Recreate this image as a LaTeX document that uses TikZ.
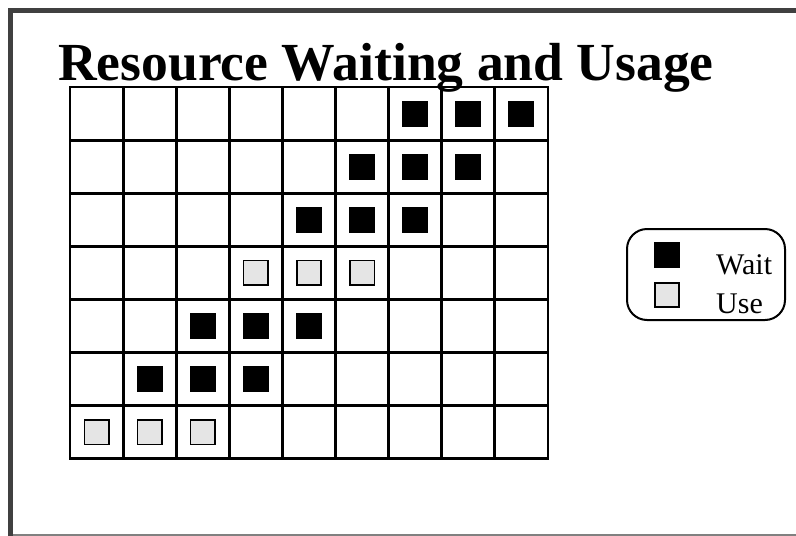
\documentclass[tikz,border=0pt]{standalone}
\usepackage{fontspec}
\setmainfont{Liberation Serif}
\usetikzlibrary{positioning}

\begin{document}
\begin{tikzpicture}[
  x=1pt, y=-1pt,
  frame/.style={draw=black!75, line width=5pt},
  gridline/.style={line width=2.8pt, line cap=rect},
  waitbox/.style={fill=black, minimum size=26pt, inner sep=0pt},
  usebox/.style={draw, fill=black!10, line width=1.6pt, minimum size=24.5pt, inner sep=0pt},
  lbl/.style={font=\fontsize{30}{32}\selectfont, anchor=base west, inner sep=0pt}
]
\useasboundingbox (0,0) rectangle (796,536);

% slide frame
\draw[frame] (10.5,536) -- (10.5,10) -- (796,10);
\draw[black!50, line width=1.5pt] (13,535.2) -- (796,535.2);

\node[anchor=base west, inner sep=0pt, font=\fontsize{53.6}{60}\selectfont\bfseries] (title) at (58,80) {Resource Waiting and Usage};

% 9 x 7 grid
\foreach \c in {0,...,9}
  \draw[gridline] ({70+53.1*\c},87) -- ({70+53.1*\c},458.7);
\foreach \r in {0,...,7}
  \draw[gridline] (70,{87+53.1*\r}) -- (547.9,{87+53.1*\r});

% three marks per row, shifting left one cell each row
\foreach \r/\kind in {1/waitbox,2/waitbox,3/waitbox,4/usebox,5/waitbox,6/waitbox,7/usebox}
  \foreach \k in {0,1,2}
    \node[\kind] (m\r-\k) at ({70+53.1*(7.5-\r+\k)},{87+53.1*(\r-0.5)}) {};

% legend
\node[draw, rounded corners=20pt, line width=2pt, minimum width=158pt, minimum height=91pt] (legend) at (706,274.5) {};
\node[waitbox] (keywait) at (667,255) {};
\node[usebox] (keyuse) at (667,295) {};
\node[lbl] (waittxt) at (716,274) {Wait};
\node[lbl] (usetxt) at (716,313) {Use};
\end{tikzpicture}
\end{document}
